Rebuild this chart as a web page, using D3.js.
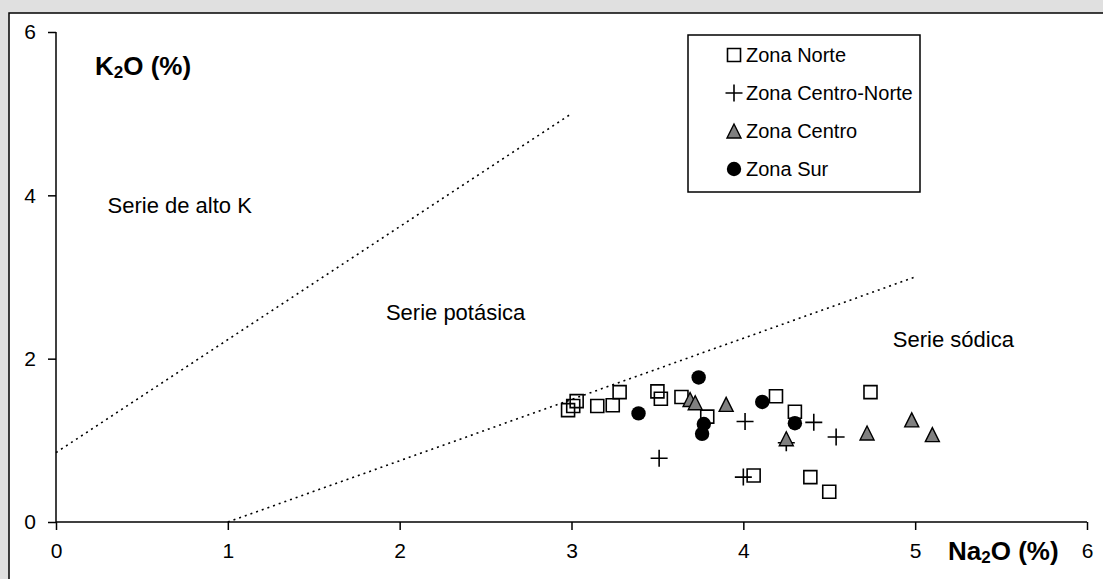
<!DOCTYPE html>
<html>
<head>
<meta charset="utf-8">
<script src="https://cdn.jsdelivr.net/npm/d3@7"></script>
<style>
  html, body { margin: 0; padding: 0; background: #e0e0e0; }
  svg { display: block; font-family: "Liberation Sans", Arial, sans-serif; }
</style>
</head>
<body>
<svg id="chart" width="1103" height="579"></svg>
<script>
// Na2O vs K2O (%) by zone
const zonaNorteNa = [2.98, 3.01, 3.03, 3.15, 3.24, 3.28, 3.50, 3.52, 3.64, 3.79, 4.19, 4.30, 4.74, 4.06, 4.39, 4.50];
const zonaNorteK  = [1.37, 1.42, 1.48, 1.42, 1.43, 1.59, 1.60, 1.51, 1.53, 1.29, 1.54, 1.35, 1.59, 0.57, 0.55, 0.37];

const centroNorteNa = [3.51, 4.00, 4.01, 4.25, 4.41, 4.54];
const centroNorteK  = [0.78, 0.55, 1.23, 0.97, 1.22, 1.04];

const centroNa = [3.69, 3.72, 3.90, 4.25, 4.72, 4.98, 5.10];
const centroK  = [1.50, 1.46, 1.44, 1.02, 1.09, 1.25, 1.07];

const surNa = [3.39, 3.74, 3.77, 3.76, 4.11, 4.30];
const surK  = [1.33, 1.77, 1.20, 1.08, 1.47, 1.21];

// Series boundaries (Na2O, K2O)
const altoKLine   = [[0, 0.85], [3, 5]];
const sodicaLine  = [[1, 0], [5, 3]];

const xTicks = [0, 1, 2, 3, 4, 5, 6];
const yTicks = [0, 2, 4, 6];

const legendNames = ["Zona Norte", "Zona Centro-Norte", "Zona Centro", "Zona Sur"];
const regionLabels = [
  { text: "Serie de alto K", na: 0.30, k: 3.80 },
  { text: "Serie potásica", na: 1.92, k: 2.48 },
  { text: "Serie sódica",   na: 4.87, k: 2.15 }
];

const svg = d3.select("#chart");
const W = 1103, H = 579;

// Frame
svg.append("rect").attr("x", 0).attr("y", 0).attr("width", W).attr("height", H).attr("fill", "#e0e0e0");
svg.append("rect").attr("x", 9).attr("y", 13).attr("width", W).attr("height", H)
  .attr("fill", "#fff").attr("stroke", "#000").attr("stroke-width", 1.5);

const x = d3.scaleLinear().domain([0, 6]).range([56, 1087]);
const y = d3.scaleLinear().domain([0, 6]).range([522, 32]);

// Axes
const xAxis = svg.append("g").attr("transform", `translate(0,${y(0)})`)
  .call(d3.axisBottom(x).tickValues(xTicks).tickSize(8).tickPadding(13).tickFormat(d3.format("d")));
const yAxis = svg.append("g").attr("transform", `translate(${x(0)},0)`)
  .call(d3.axisLeft(y).tickValues(yTicks).tickSize(8).tickPadding(12).tickFormat(d3.format("d")));
[xAxis, yAxis].forEach(g => {
  g.selectAll("path.domain").attr("stroke", "#000").attr("stroke-width", 1.5)
    .attr("d", g === xAxis ? `M${x(0)},0H${x(6)}` : `M0,${y(0)}V${y(6)}`);
  g.selectAll(".tick line").attr("stroke", "#000").attr("stroke-width", 1.5);
  g.selectAll(".tick text").attr("font-size", 21).attr("fill", "#000")
    .attr("font-family", "'Liberation Sans', Arial, sans-serif");
});

// Boundary lines
const line = d3.line().x(d => x(d[0])).y(d => y(d[1]));
[altoKLine, sodicaLine].forEach(pts => {
  svg.append("path").attr("d", line(pts)).attr("fill", "none")
    .attr("stroke", "#000").attr("stroke-width", 1.6).attr("stroke-dasharray", "2,4");
});

// Region labels
regionLabels.forEach(r => {
  svg.append("text").attr("x", x(r.na)).attr("y", y(r.k) + 1).attr("font-size", 22)
    .attr("fill", "#000").text(r.text);
});

// Axis titles with subscripts
function titled(xp, yp, parts) {
  const t = svg.append("text").attr("x", xp).attr("y", yp)
    .attr("font-size", 26).attr("font-weight", "bold").attr("fill", "#000");
  t.append("tspan").text(parts[0]);
  t.append("tspan").attr("font-size", 17).attr("dy", 3).text("2");
  t.append("tspan").attr("dy", -3).text(parts[1]);
}
titled(95, 75, ["K", "O (%)"]);
titled(948, 560, ["Na", "O (%)"]);

// Marker shapes
const squarePath = s => `M${-s/2},${-s/2}h${s}v${s}h${-s}Z`;
const trianglePath = s => `M0,${-s/2}L${s/2},${s/2}L${-s/2},${s/2}Z`;
const plusPath = s => `M${-s/2},0H${s/2}M0,${-s/2}V${s/2}`;

function drawSquare(g, cx, cy) {
  g.append("path").attr("transform", `translate(${cx},${cy})`).attr("d", squarePath(13))
    .attr("fill", "none").attr("stroke", "#000").attr("stroke-width", 1.6);
}
function drawPlus(g, cx, cy) {
  g.append("path").attr("transform", `translate(${cx},${cy})`).attr("d", plusPath(17))
    .attr("fill", "none").attr("stroke", "#000").attr("stroke-width", 1.6);
}
function drawTriangle(g, cx, cy) {
  g.append("path").attr("transform", `translate(${cx},${cy})`).attr("d", trianglePath(14))
    .attr("fill", "#808080").attr("stroke", "#000").attr("stroke-width", 1.4);
}
function drawCircle(g, cx, cy) {
  g.append("circle").attr("cx", cx).attr("cy", cy).attr("r", 7.2).attr("fill", "#000");
}

const marks = svg.append("g");
zonaNorteNa.forEach((v, i) => drawSquare(marks, x(v), y(zonaNorteK[i])));
centroNorteNa.forEach((v, i) => drawPlus(marks, x(v), y(centroNorteK[i])));
centroNa.forEach((v, i) => drawTriangle(marks, x(v), y(centroK[i])));
surNa.forEach((v, i) => drawCircle(marks, x(v), y(surK[i])));

// Legend
const lg = svg.append("g");
lg.append("rect").attr("x", 688).attr("y", 35).attr("width", 232).attr("height", 157)
  .attr("fill", "#fff").attr("stroke", "#000").attr("stroke-width", 1.5);
const drawers = [drawSquare, drawPlus, drawTriangle, drawCircle];
legendNames.forEach((name, i) => {
  const cy = 55 + i * 38;
  drawers[i](lg, 734, cy);
  lg.append("text").attr("x", 746).attr("y", cy + 7).attr("font-size", 20)
    .attr("fill", "#000").text(name);
});
</script>
</body>
</html>
